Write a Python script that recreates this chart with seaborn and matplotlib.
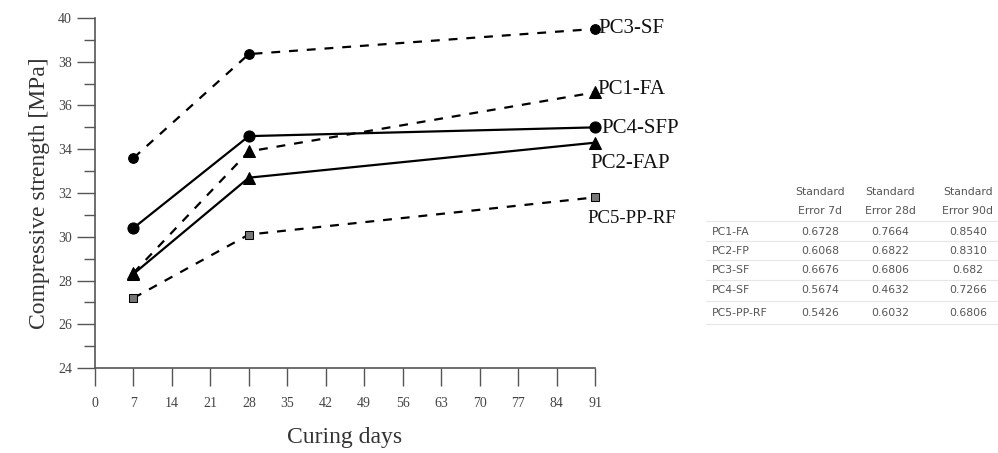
import numpy as np
import pandas as pd
import matplotlib
matplotlib.use("Agg")
import matplotlib.pyplot as plt
import seaborn as sns

days = [7, 28, 91]
series = ["PC3-SF", "PC1-FA", "PC4-SFP", "PC2-FAP", "PC5-PP-RF"]
pc3_sf = [33.6, 38.35, 39.5]
pc1_fa = [28.35, 33.9, 36.6]
pc4_sfp = [30.4, 34.6, 35.0]
pc2_fap = [28.3, 32.7, 34.3]
pc5_pprf = [27.2, 30.1, 31.8]

x_ticks = list(range(0, 92, 7))
y_ticks = list(range(24, 41, 2))

# standard error table
tbl_cols = ["Error 7d", "Error 28d", "Error 90d"]
tbl_rows = ["PC1-FA", "PC2-FP", "PC3-SF", "PC4-SF", "PC5-PP-RF"]
err_7d = ["0.6728", "0.6068", "0.6676", "0.5674", "0.5426"]
err_28d = ["0.7664", "0.6822", "0.6806", "0.4632", "0.6032"]
err_90d = ["0.8540", "0.8310", "0.682", "0.7266", "0.6806"]

sns.set_style("white")
plt.rcParams['font.family'] = ['Liberation Serif', 'DejaVu Serif']

df = pd.DataFrame({
    "days": days * 5,
    "strength": pc3_sf + pc1_fa + pc4_sfp + pc2_fap + pc5_pprf,
    "mix": sum([[s] * 3 for s in series], []),
})

W, H = 998, 453
fig = plt.figure(figsize=(W / 100, H / 100), dpi=100)
ax = fig.add_axes([0.0952, 0.1876, 0.5010, 0.7727])

styles = {
    "PC3-SF": dict(ls=(0, (4, 4)), marker="o", mfc="black", ms=7),
    "PC1-FA": dict(ls=(0, (4, 4)), marker="^", mfc="black", ms=8),
    "PC4-SFP": dict(ls="-", marker="o", mfc="black", ms=8),
    "PC2-FAP": dict(ls="-", marker="^", mfc="black", ms=8),
    "PC5-PP-RF": dict(ls=(0, (4, 4)), marker="s", mfc="#777777", ms=6),
}
for s in series:
    st = styles[s]
    sns.lineplot(data=df[df["mix"] == s], x="days", y="strength", ax=ax,
                 color="black", linewidth=1.6, linestyle=st["ls"],
                 marker=st["marker"], markersize=st["ms"],
                 markerfacecolor=st["mfc"], markeredgecolor="black",
                 clip_on=False, legend=False)

# series names at the right end
lbl_pos = {
    "PC3-SF": (91.7, 39.5, 15),
    "PC1-FA": (91.4, 36.75, 15),
    "PC4-SFP": (92.2, 34.95, 15),
    "PC2-FAP": (90.2, 33.35, 15),
    "PC5-PP-RF": (89.6, 30.85, 13.5),
}
for s in series:
    x, y, fs = lbl_pos[s]
    ax.text(x, y, s, fontsize=fs, va="center", ha="left", color="#111111")

ax.set_xlim(0, 91)
ax.set_ylim(24, 40)
ax.set_xticks(x_ticks)
ax.set_yticks(y_ticks)
ax.set_yticks(np.arange(25, 40, 2), minor=True)
ax.tick_params(axis="both", which="major", direction="out", length=13,
               width=1, color="#555555", labelsize=10, labelcolor="#444444",
               bottom=True, left=True)
ax.tick_params(axis="y", which="minor", direction="out", length=8,
               width=1, color="#555555", left=True)
ax.tick_params(axis="x", pad=8)
for sp in ["top", "right"]:
    ax.spines[sp].set_visible(False)
for sp in ["left", "bottom"]:
    ax.spines[sp].set_color("#555555")
    ax.spines[sp].set_linewidth(1.2)
ax.set_xlabel("Curing days", fontsize=17, color="#333333", labelpad=12)
ax.set_ylabel("Compressive strength [MPa]", fontsize=17, color="#333333", labelpad=6)

# table of standard errors, placed in figure pixels
col_x = [820, 890, 968]
row_y = [232, 251, 270, 290, 313]
tfont = dict(fontsize=7.8, color="#555555", family="DejaVu Sans")


def fx(px):
    return px / W


def fy(py):
    return 1 - py / H


for cx, name in zip(col_x, tbl_cols):
    fig.text(fx(cx), fy(192), "Standard", ha="center", va="center", **tfont)
    fig.text(fx(cx), fy(211), name, ha="center", va="center", **tfont)
for ry, name, a, b, c in zip(row_y, tbl_rows, err_7d, err_28d, err_90d):
    fig.text(fx(712), fy(ry), name, ha="left", va="center", **tfont)
    for cx, v in zip(col_x, [a, b, c]):
        fig.text(fx(cx), fy(ry), v, ha="center", va="center", **tfont)
for ly in [221, 241, 260, 280, 301, 324]:
    fig.add_artist(plt.Line2D([fx(706), fx(998)], [fy(ly), fy(ly)],
                              color="#e6e6e6", linewidth=0.8))

fig.savefig("out.png", dpi=100)
